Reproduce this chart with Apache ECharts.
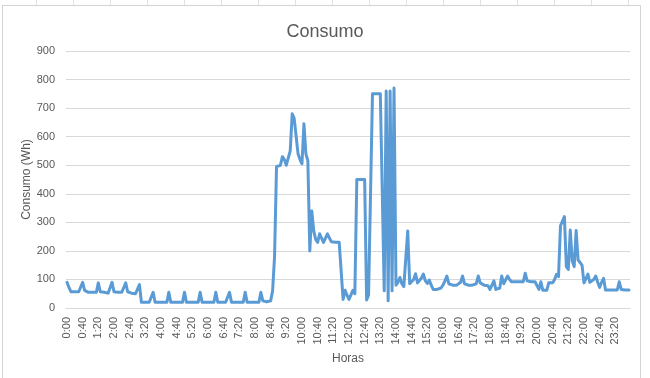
<!DOCTYPE html>
<html>
<head>
<meta charset="utf-8">
<script src="https://cdn.jsdelivr.net/npm/echarts@6/dist/echarts.min.js"></script>
<style>
  html, body { margin: 0; padding: 0; }
  body {
    width: 650px; height: 378px; overflow: hidden; position: relative;
    background: #fff;
    background-image: repeating-linear-gradient(90deg, transparent 0 36px, #e3e3e3 36px 37px);
  }
  .frame {
    position: absolute; left: 2px; top: 5px; width: 639px; height: 380px;
    background: #fff; border: 1px solid #d4d4d4; box-sizing: border-box;
  }
  #chart { position: absolute; left: 0; top: 0; width: 650px; height: 378px; }
</style>
</head>
<body>
<div class="frame"></div>
<div id="chart"></div>
<script>
// --- datos: consumo cada 5 minutos (Wh) ---
const horas = [];
for (let h = 0; h < 24; h++) {
  for (let m = 0; m < 60; m += 5) {
    horas.push(h + ':' + (m < 10 ? '0' + m : m));
  }
}

// 0:00 - 3:05
const consumoMadrugada1 = [
  90, 72, 57, 57, 57, 57, 57, 57,
  90, 62, 57, 55, 55, 55, 55, 55,
  88, 57, 55, 55, 55, 52, 52,
  90, 57, 55, 55, 55, 55, 55,
  88, 57, 55, 52, 52, 50, 45, 82
];
// 3:10 - 8:40
const consumoMadrugada2 = [
  20, 20, 20, 20, 20, 20, 55, 20, 20, 20, 20, 20, 20, 20,
  55, 20, 20, 20, 20, 20, 20, 20, 55, 20, 20, 20, 20, 20,
  20, 20, 55, 20, 20, 20, 20, 20, 20, 20, 55, 20, 20, 20,
  20, 20, 20, 55, 20, 20, 20, 20, 20, 20, 20, 55, 20, 20,
  20, 20, 20, 20, 20, 55, 25, 22, 22, 22, 25
];
// 8:45 - 13:55
const consumoManana = [
  60, 180, 495, 500, 500, 530, 520, 500, 500, 550, 680, 665, 665,
  540, 520, 505, 645, 540, 515, 200, 340, 270, 240, 230, 260, 245,
  230, 245, 260, 245, 232, 230, 230, 230, 230, 230,
  30, 62, 45, 30, 35, 62, 50,
  450, 450, 450, 450, 450, 28, 45, 40,
  750, 750, 750, 750, 750, 750, 60, 760, 25, 760, 60, 770
];
// 14:00 - 23:55
const consumoTarde = [
  80, 90, 107, 85, 75, 80, 270, 85, 90, 100, 120, 88, 90, 105, 119, 95,
  86, 98, 80, 65, 65, 65, 65, 70, 80, 95, 112, 85, 80, 80, 80, 80,
  80, 90, 112, 85, 80, 80, 80, 80, 80, 85, 112, 88, 85, 80, 80, 78,
  65, 65, 95, 65, 65, 70, 112, 85, 90, 112, 100, 92, 92, 92, 92, 92,
  92, 92, 122, 95, 92, 92, 92, 92, 92, 65, 92, 62, 62, 62, 88, 88,
  88, 100, 118, 110, 288, 292, 320, 145, 135, 273, 165, 145, 271, 168, 165, 150,
  88, 90, 119, 90, 95, 100, 112, 90, 72, 90, 104, 63, 63, 63, 63, 63,
  63, 63, 92, 65, 63, 63, 63, 63
];

const consumo = consumoMadrugada1.concat(consumoMadrugada2, consumoManana, consumoTarde);

const ticksY = [0, 100, 200, 300, 400, 500, 600, 700, 800, 900];

const chart = echarts.init(document.getElementById('chart'), null, { width: 650, height: 378 });
const grisTexto = '#595959';
const grisLinea = '#d9d9d9';
const fuente = '"Liberation Sans", Arial, sans-serif';

chart.setOption({
  animation: false,
  backgroundColor: 'transparent',
  textStyle: { fontFamily: fuente },
  title: {
    text: 'Consumo',
    left: 'center',
    top: 18,
    textStyle: { color: grisTexto, fontSize: 18, fontWeight: 'normal', fontFamily: fuente }
  },
  grid: { left: 66, right: 20, top: 51, bottom: 70 },
  xAxis: {
    type: 'category',
    data: horas,
    boundaryGap: true,
    name: 'Horas',
    nameLocation: 'middle',
    nameGap: 45,
    nameTextStyle: { color: grisTexto, fontSize: 12 },
    axisLine: { lineStyle: { color: grisLinea, width: 1 } },
    axisTick: { show: false },
    axisLabel: {
      interval: 7,
      rotate: 90,
      margin: 9,
      color: grisTexto,
      fontSize: 11
    },
    splitLine: { show: false }
  },
  yAxis: {
    type: 'value',
    min: ticksY[0],
    max: ticksY[ticksY.length - 1],
    interval: 100,
    name: 'Consumo (Wh)',
    nameLocation: 'middle',
    nameGap: 33,
    nameMoveOverlap: false,
    nameTextStyle: { color: grisTexto, fontSize: 12 },
    axisLine: { show: false },
    axisTick: { show: false },
    axisLabel: { color: grisTexto, fontSize: 11, margin: 11 },
    splitLine: { lineStyle: { color: grisLinea, width: 1 } }
  },
  series: [{
    name: 'Consumo',
    type: 'line',
    data: consumo,
    showSymbol: false,
    lineStyle: { color: '#5B9BD5', width: 3, join: 'round', cap: 'round' },
    itemStyle: { color: '#5B9BD5' }
  }]
});
</script>
</body>
</html>
